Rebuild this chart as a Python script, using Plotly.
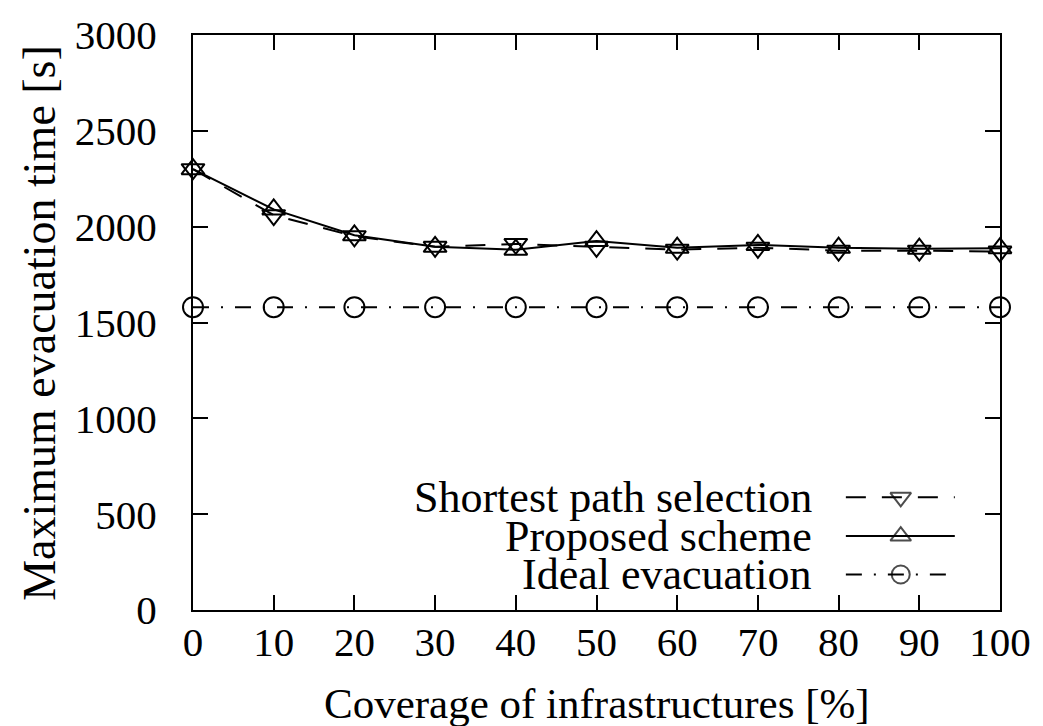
import plotly.graph_objects as go

# Coverage of infrastructures [%]
coverage = [0, 10, 20, 30, 40, 50, 60, 70, 80, 90, 100]

# Maximum evacuation time [s] per scheme
shortest_path = [2300, 2060, 1950, 1895, 1910, 1895, 1880, 1890, 1875, 1875, 1870]
proposed = [2300, 2090, 1955, 1895, 1880, 1925, 1890, 1905, 1890, 1885, 1888]
ideal = [1580, 1580, 1580, 1580, 1580, 1580, 1580, 1580, 1580, 1580, 1580]

x_ticks = [0, 10, 20, 30, 40, 50, 60, 70, 80, 90, 100]
y_ticks = [0, 500, 1000, 1500, 2000, 2500, 3000]

series_names = ["Shortest path selection", "Proposed scheme", "Ideal evacuation"]

FONT = "Liberation Serif"
FS_KEY = 44
FS_XTITLE = 43
FS_YTITLE = 46
FS_TICK = 41
INK = "black"

styles = [
    dict(dash="20px,16px", symbol="triangle-down-open", size=20),
    dict(dash="solid", symbol="triangle-up-open", size=20),
    dict(dash="16px,12px,2px,12px", symbol="circle-open", size=20),
]

fig = go.Figure()

for name, values, st in zip(series_names, [shortest_path, proposed, ideal], styles):
    fig.add_trace(go.Scatter(
        x=coverage, y=values, name=name, mode="lines+markers",
        line=dict(color=INK, width=2, dash=st["dash"]),
        marker=dict(symbol=st["symbol"], size=st["size"], color=INK,
                    line=dict(color=INK, width=2)),
        cliponaxis=False, showlegend=False,
    ))

# Key: right-aligned labels followed by a line sample with its marker
key_x = [0.809, 0.877, 0.944]
key_y = [0.196, 0.1286, 0.0618]
annotations = []
for name, st, ky in zip(series_names, styles, key_y):
    fig.add_trace(go.Scatter(
        x=key_x, y=[ky, ky, ky], mode="lines+markers", xaxis="x2", yaxis="y2",
        line=dict(color=INK, width=2, dash=st["dash"]),
        marker=dict(symbol=st["symbol"], size=[0, st["size"] - 2, 0], color=INK,
                    line=dict(color=INK, width=2)),
        showlegend=False, hoverinfo="skip",
    ))
    annotations.append(dict(
        text=name, x=0.768, y=ky, xref="paper", yref="paper",
        xanchor="right", yanchor="middle", showarrow=False,
        font=dict(family=FONT, size=FS_KEY, color=INK),
        borderpad=0,
    ))

annotations.append(dict(
    text="Coverage of infrastructures [%]", x=0.5, y=-0.162,
    xref="paper", yref="paper", xanchor="center", yanchor="middle",
    showarrow=False, font=dict(family=FONT, size=FS_XTITLE, color=INK),
    borderpad=0,
))
annotations.append(dict(
    text="Maximum evacuation time [s]", x=-0.1904, y=0.5,
    xref="paper", yref="paper", xanchor="center", yanchor="middle",
    textangle=-90, showarrow=False, font=dict(family=FONT, size=FS_YTITLE, color=INK),
    borderpad=0,
))

axis_common = dict(
    showgrid=False, zeroline=False, showline=True, linecolor=INK, linewidth=2,
    mirror="ticks", ticks="inside", ticklen=15, tickwidth=1.5, tickcolor=INK,
    tickfont=dict(family=FONT, size=FS_TICK, color=INK),
)

fig.update_layout(
    width=1043, height=726,
    margin=dict(l=193, r=36, t=32, b=116),
    paper_bgcolor="white", plot_bgcolor="white",
    xaxis=dict(range=[0, 100], tickvals=x_ticks, ticklabelstandoff=-5, **axis_common),
    yaxis=dict(range=[0, 3000], tickvals=y_ticks, ticklabelstandoff=26, **axis_common),
    xaxis2=dict(range=[0, 1], overlaying="x", visible=False, fixedrange=True),
    yaxis2=dict(range=[0, 1], overlaying="y", visible=False, fixedrange=True),
    annotations=annotations,
    showlegend=False,
)

fig.write_html("out.html")
